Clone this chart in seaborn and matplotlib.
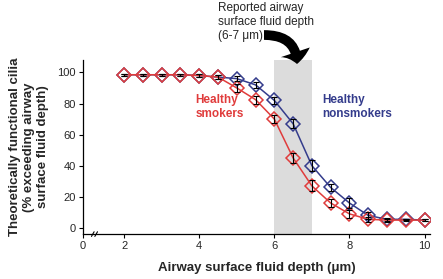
import numpy as np
import pandas as pd
import matplotlib
matplotlib.use("Agg")
import matplotlib.pyplot as plt
import seaborn as sns
from matplotlib.patches import FancyArrowPatch

# depth (um) and % functional cilia
depth = [2, 2.5, 3, 3.5, 4, 4.5, 5, 5.5, 6, 6.5, 7, 7.5, 8, 8.5, 9, 9.5, 10]
smokers = [98.5, 98.5, 98.5, 98.5, 98, 97, 90, 82.5, 70, 45, 27, 16, 9, 5.5, 5, 5, 5]
smokers_err = [0.5, 0.5, 0.5, 0.5, 1, 1.5, 2.5, 2.5, 2.5, 3, 3.5, 2.5, 2.5, 1.5, 1, 0.5, 0.5]
nonsmokers = [98.5, 98.5, 98.5, 98.5, 98, 97, 96, 92, 82, 67, 40, 26, 16, 8, 5.5, 5.5, 5]
nonsmokers_err = [0.5, 0.5, 0.5, 0.5, 1, 1.5, 1.5, 2, 2, 3, 3.5, 2.5, 3, 2.5, 1, 0.5, 0.5]

red = "#e03c3c"
navy = "#343c8c"

sns.set_style("ticks")
plt.rcParams["font.family"] = ["Liberation Sans", "DejaVu Sans"]

df = pd.DataFrame({"depth": depth * 2,
                   "pct": nonsmokers + smokers,
                   "group": ["nonsmokers"] * len(depth) + ["smokers"] * len(depth)})

fig = plt.figure(figsize=(4.43, 2.79), dpi=100)
ax = fig.add_axes([0.187, 0.161, 0.784, 0.624])

ax.axvspan(6, 7, color="#dcdcdc", zorder=0, lw=0)

sns.lineplot(data=df, x="depth", y="pct", hue="group", palette={"nonsmokers": navy, "smokers": red},
             marker="D", markersize=7.5, markerfacecolor="none", markeredgewidth=1.1, linewidth=1.1,
             legend=False, ax=ax, zorder=3)
for line, c in zip(ax.get_lines(), [navy, red]):
    line.set_markeredgecolor(c)

ax.errorbar(depth, nonsmokers, yerr=nonsmokers_err, fmt="none", ecolor="black", elinewidth=0.8,
            capsize=2, capthick=0.8, zorder=4)
ax.errorbar(depth, smokers, yerr=smokers_err, fmt="none", ecolor="black", elinewidth=0.8,
            capsize=2, capthick=0.8, zorder=4)

ax.set_xlim(0.9, 10.15)
ax.set_ylim(-4, 108)
ax.set_xticks([0.9, 2, 4, 6, 8, 10])
ax.set_xticklabels(["0", "2", "4", "6", "8", "10"])
ax.set_yticks([0, 20, 40, 60, 80, 100])
ax.tick_params(labelsize=8, length=3, width=0.8, color="black", pad=2)
sns.despine(ax=ax)
for s in ["left", "bottom"]:
    ax.spines[s].set_linewidth(0.9)
    ax.spines[s].set_color("black")

# axis break marks
for dx in [0, 0.09]:
    ax.plot([1.13 + dx, 1.2 + dx], [-5.5, -2.5], color="black", lw=0.8, clip_on=False, zorder=5)

ax.set_xlabel("Airway surface fluid depth (\u03bcm)", fontsize=9.5, fontweight="bold", labelpad=8)
ax.set_ylabel("Theoretically functional cilia\n(% exceeding airway\nsurface fluid depth)",
              fontsize=9.5, fontweight="bold", labelpad=6)

ax.text(3.9, 77.5, "Healthy\nsmokers", color=red, fontsize=8.5, fontweight="bold", va="center", ha="left")
ax.text(7.28, 77.5, "Healthy\nnonsmokers", color=navy, fontsize=8.5, fontweight="bold", va="center", ha="left")

fig.text(218 / 443, 1 - 2 / 279, "Reported airway\nsurface fluid depth\n(6-7 \u03bcm)", fontsize=8.5,
         va="top", ha="left", linespacing=1.2)

arrow = FancyArrowPatch((264 / 443, 1 - 35 / 279), (297 / 443, 1 - 64 / 279),
                        transform=fig.transFigure, connectionstyle="angle3,angleA=0,angleB=90",
                        arrowstyle="simple,head_width=2.2,head_length=0.85,tail_width=0.7",
                        mutation_scale=10, color="black", lw=0, shrinkA=0, shrinkB=0)
fig.patches.append(arrow)

fig.savefig("out.png", dpi=100)
